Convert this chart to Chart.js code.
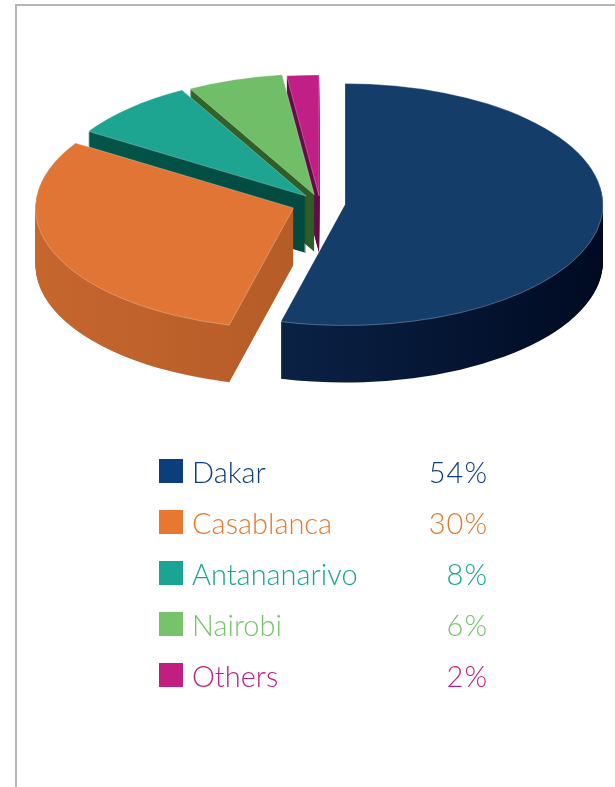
<!DOCTYPE html>
<html>
<head>
<meta charset="utf-8">
<script src="https://cdn.jsdelivr.net/npm/chart.js@4/dist/chart.umd.min.js"></script>
<style>
  html, body { margin: 0; padding: 0; background: #fff; }
  body { width: 615px; height: 787px; position: relative; overflow: hidden; }
  #frame {
    position: absolute; left: 15px; top: 4px; width: 620px; height: 800px;
    border-top: 2px solid #b6b6b6; border-left: 2px solid #b6b6b6;
  }
  #wrap { position: absolute; left: 0; top: 0; width: 615px; height: 787px; }
  #legend {
    position: absolute; left: 159px; top: 457px; width: 329px;
    font-family: Lato, "Noto Sans", sans-serif; font-weight: 300; font-size: 29px;
    border-collapse: collapse;
  }
  #legend td { padding: 0; height: 51px; vertical-align: top; line-height: 30px; white-space: nowrap; }
  #legend .sw { display: inline-block; width: 24px; height: 24px; margin-top: 2px; vertical-align: top; }
  #legend .name { padding-left: 9px; }
  #legend .pct { text-align: right; letter-spacing: 1px; }
</style>
</head>
<body>
<div id="frame"></div>
<div id="wrap"><canvas id="myChart" width="615" height="787"></canvas></div>
<table id="legend"></table>
<script>
const cities = ['Dakar', 'Casablanca', 'Antananarivo', 'Nairobi', 'Others'];
const shares = [54, 30, 8, 6, 2];
const shareLabels = ['54%', '30%', '8%', '6%', '2%'];

// colours: top face, side wall (light -> dark), legend
const topColors = ['#153d6a', '#e07535', '#1ea592', '#70bf68', '#c01f86'];
const wallColors = [
  ['#11305a', '#000a22'],
  ['#c6662f', '#a4521f'],
  ['#03584c', '#003b33'],
  ['#386e2e', '#234b1d'],
  ['#7c1057', '#4e0439'],
];
const legendColors = ['#0d3e7c', '#e8782f', '#1aa493', '#76c36b', '#c21e82'];

// 3d look: squash the pie into an ellipse and stack darker layers under it
const pie3d = {
  id: 'pie3d',
  rx: 258, ry: 121, cx: 320, cy: 203, depth: 57,
  explode: [30, 34, 24, 22, 18],
  beforeDatasetsDraw(chart) {
    const ctx = chart.ctx;
    const arcs = chart.getDatasetMeta(0).data;
    const R = arcs[0].outerRadius, ox = arcs[0].x, oy = arcs[0].y;
    const p = this;
    const drawArc = (arc, i, h, opts) => {
      ctx.save();
      ctx.translate(p.cx, p.cy + h);
      ctx.scale(p.rx / R, p.ry / R);
      ctx.translate(-ox, -oy);
      const mid = (arc.startAngle + arc.endAngle) / 2;
      ctx.translate(Math.cos(mid) * p.explode[i], Math.sin(mid) * p.explode[i]);
      const fake = Object.create(arc);
      fake.options = Object.assign({}, arc.options, opts);
      arc.draw.call(fake, ctx);
      ctx.restore();
    };
    const grads = wallColors.map(c => {
      const g = ctx.createLinearGradient(ox - R, 0, ox + R, 0);
      g.addColorStop(0, c[0]);
      g.addColorStop(1, c[1]);
      return g;
    });
    for (let h = p.depth; h > 0; h--) {
      arcs.forEach((arc, i) => drawArc(arc, i, h, {backgroundColor: grads[i], borderWidth: 0}));
    }
    arcs.forEach((arc, i) => drawArc(arc, i, 0, {}));
    return false;
  }
};

const data = {
  labels: cities,
  datasets: [{
    data: shares,
    backgroundColor: topColors,
    borderColor: 'rgba(255,255,255,0.45)',
    borderWidth: 1,
  }]
};

const config = {
  type: 'pie',
  data,
  options: {
    responsive: false,
    animation: false,
    devicePixelRatio: 1,
    events: [],
    plugins: { legend: { display: false }, tooltip: { enabled: false } }
  },
  plugins: [pie3d]
};

var myChart = new Chart(document.getElementById('myChart'), config);

// legend table
const legend = document.getElementById('legend');
cities.forEach((name, i) => {
  const tr = document.createElement('tr');
  tr.innerHTML = '<td style="width:24px"><span class="sw" style="background:' + legendColors[i] + '"></span></td>' +
    '<td class="name" style="color:' + legendColors[i] + '">' + name + '</td>' +
    '<td class="pct" style="color:' + legendColors[i] + '">' + shareLabels[i] + '</td>';
  legend.appendChild(tr);
});
</script>
</body>
</html>
